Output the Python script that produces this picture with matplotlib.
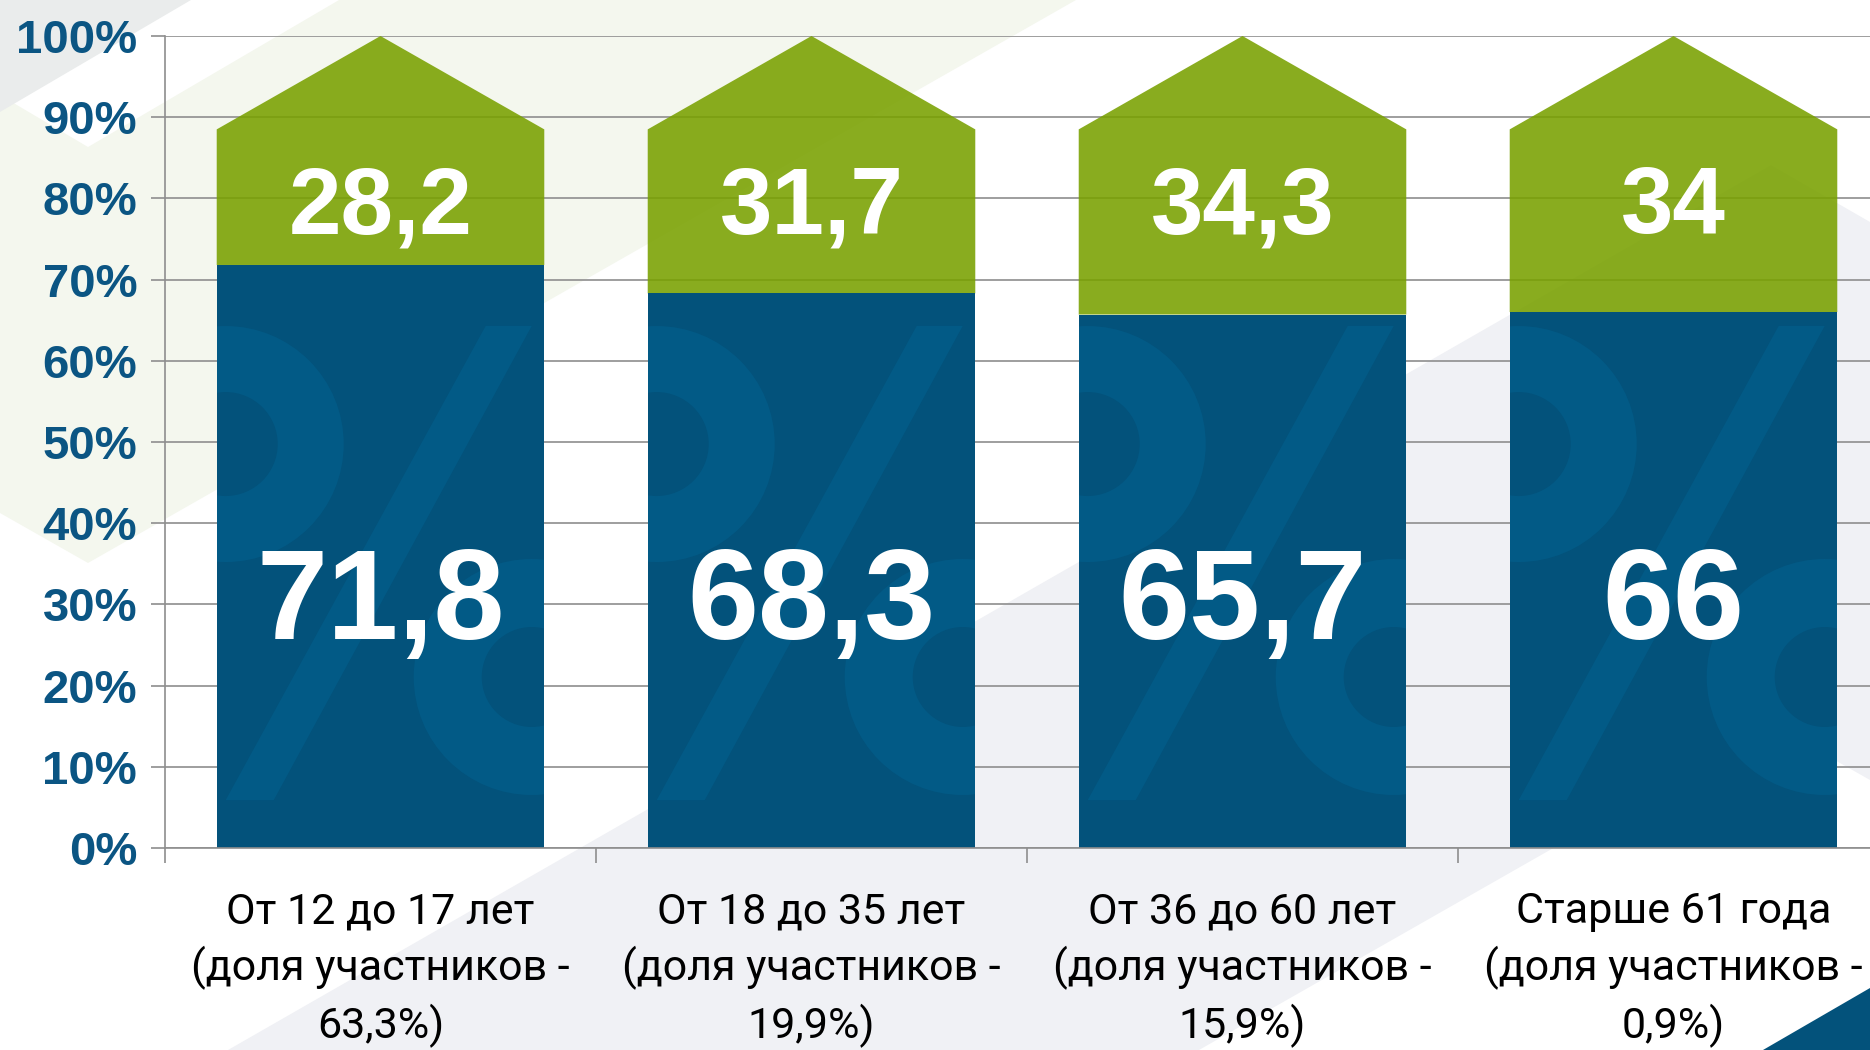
"""
Age-group stacked bars (blue / green "house" bars) on a decorated slide background.
Saves out.png at 1870x1050.
"""

import matplotlib
matplotlib.use("Agg")
import matplotlib.pyplot as plt
from matplotlib.patches import Polygon, Ellipse
import numpy as np

# ---------------------------------------------------------------------------
# data
# ---------------------------------------------------------------------------
categories = [
    "От 12 до 17 лет\n(доля участников -\n63,3%)",
    "От 18 до 35 лет\n(доля участников -\n19,9%)",
    "От 36 до 60 лет\n(доля участников -\n15,9%)",
    "Старше 61 года\n(доля участников -\n0,9%)",
]
blue_vals = [71.8, 68.3, 65.7, 66]
green_vals = [28.2, 31.7, 34.3, 34]
y_ticks = [0, 10, 20, 30, 40, 50, 60, 70, 80, 90, 100]
y_tick_labels = [f"{t}%" for t in y_ticks]

# ---------------------------------------------------------------------------
# style
# ---------------------------------------------------------------------------
BLUE = "#03527B"
BLUE_MARK = "#025A86"
GREEN = "#79A100"
GREEN_ALPHA = 0.88
GRID = "#8E8E8E"
TICK_BLUE = "#0B5583"
NUM_FONT = "Liberation Sans"
CAT_FONT = "Roboto"

W, H, DPI = 1870, 1050, 100
fig = plt.figure(figsize=(W / DPI, H / DPI), dpi=DPI)

# background decoration in pixel space (y down)
bg = fig.add_axes([0, 0, 1, 1], zorder=0)
bg.set_xlim(0, W)
bg.set_ylim(H, 0)
bg.axis("off")
bg.add_patch(Polygon([(0, 0), (1076, 0), (88, 563), (0, 513)], color="#F4F7EE", lw=0))
bg.add_patch(Polygon([(0, 0), (339, 0), (88, 147), (0, 95)], color="white", lw=0))
bg.add_patch(Polygon([(0, 0), (191, 0), (0, 112)], color="#EAECEC", lw=0))
bg.add_patch(Polygon([(228, 1050), (1771, 165), (1870, 222), (1870, 1050)],
                     color="#F0F1F5", lw=0))
bg.add_patch(Polygon([(1199, 1050), (1771, 724), (1870, 780), (1870, 1050)],
                     color="white", lw=0))
bg.add_patch(Polygon([(1763, 1050), (1870, 988), (1870, 1050)], color=BLUE, lw=0))

# main axes: x from -0.5..3.5 spans 165..1889 px (runs off the right edge)
ax_l, ax_b, ax_w, ax_h = 165, 202, 1724, 812
ax = fig.add_axes([ax_l / W, ax_b / H, ax_w / W, ax_h / H], zorder=1)
ax.patch.set_alpha(0)
ax.set_xlim(-0.5, 3.5)
ax.set_ylim(0, 100)
px_x = ax_w / 4.0      # pixels per x unit
px_y = ax_h / 100.0    # pixels per y unit

x = np.arange(len(categories))
bw = 0.76
roof_h = 11.5

# green "house" tops (pentagon), semi-transparent over gridlines
for xi, b, g in zip(x, blue_vals, green_vals):
    top = b + g
    sh = top - roof_h
    ax.fill([xi - bw / 2, xi - bw / 2, xi, xi + bw / 2, xi + bw / 2],
            [b, sh, top, sh, b], color=GREEN, alpha=GREEN_ALPHA, lw=0, zorder=2)

bars = ax.bar(x, blue_vals, width=bw, color=BLUE, lw=0, zorder=2)

# "%" watermark inside each blue bar (sizes in px, placed relative to bar left)
def px_ellipse(cx, cy, r, color):
    return Ellipse((cx, cy), 2 * r / px_x, 2 * r / px_y, color=color, lw=0, zorder=2.1)

for rect in bars:
    left = rect.get_x()
    parts = [
        px_ellipse(left + 9 / px_x, 49.75, 118, BLUE_MARK),
        px_ellipse(left + 9 / px_x, 49.75, 52, BLUE),
        px_ellipse(left + 315 / px_x, 21.06, 118, BLUE_MARK),
        px_ellipse(left + 315 / px_x, 21.06, 50, BLUE),
        Polygon([(left + 269 / px_x, 64.3), (left + 315 / px_x, 64.3),
                 (left + 57 / px_x, 5.9), (left + 9 / px_x, 5.9)],
                color=BLUE_MARK, lw=0, zorder=2.1),
    ]
    for p in parts:
        ax.add_patch(p)
        p.set_clip_path(rect)

# value labels
for xi, b, g in zip(x, blue_vals, green_vals):
    ax.text(xi, 25.7, f"{b:g}".replace(".", ","), ha="center", va="baseline",
            fontsize=92, fontweight="bold", color="white", family=NUM_FONT, zorder=3)
    ax.text(xi, 75.7, f"{g:g}".replace(".", ","), ha="center", va="baseline",
            fontsize=68, fontweight="bold", color="white", family=NUM_FONT, zorder=3)

# axes, grid, ticks
for s in ("top", "right"):
    ax.spines[s].set_visible(False)
for s in ("left", "bottom"):
    ax.spines[s].set_color(GRID)
    ax.spines[s].set_linewidth(1.2)

ax.set_yticks(y_ticks)
ax.set_yticklabels(y_tick_labels, fontsize=34, fontweight="bold", color=TICK_BLUE,
                   family=NUM_FONT)
ax.yaxis.grid(True, color=GRID, lw=1.2)
ax.set_axisbelow(True)
ax.tick_params(axis="y", length=10, width=1.2, color=GRID, pad=10)

ax.set_xticks(x)
ax.set_xticklabels(categories, fontsize=31, family=CAT_FONT, color="black",
                   linespacing=1.4)
ax.tick_params(axis="x", which="major", length=0, pad=31)
ax.set_xticks(np.arange(-0.5, 4.0, 1.0), minor=True)
ax.tick_params(axis="x", which="minor", length=11, width=1.2, color=GRID)

fig.savefig("out.png", dpi=DPI)
